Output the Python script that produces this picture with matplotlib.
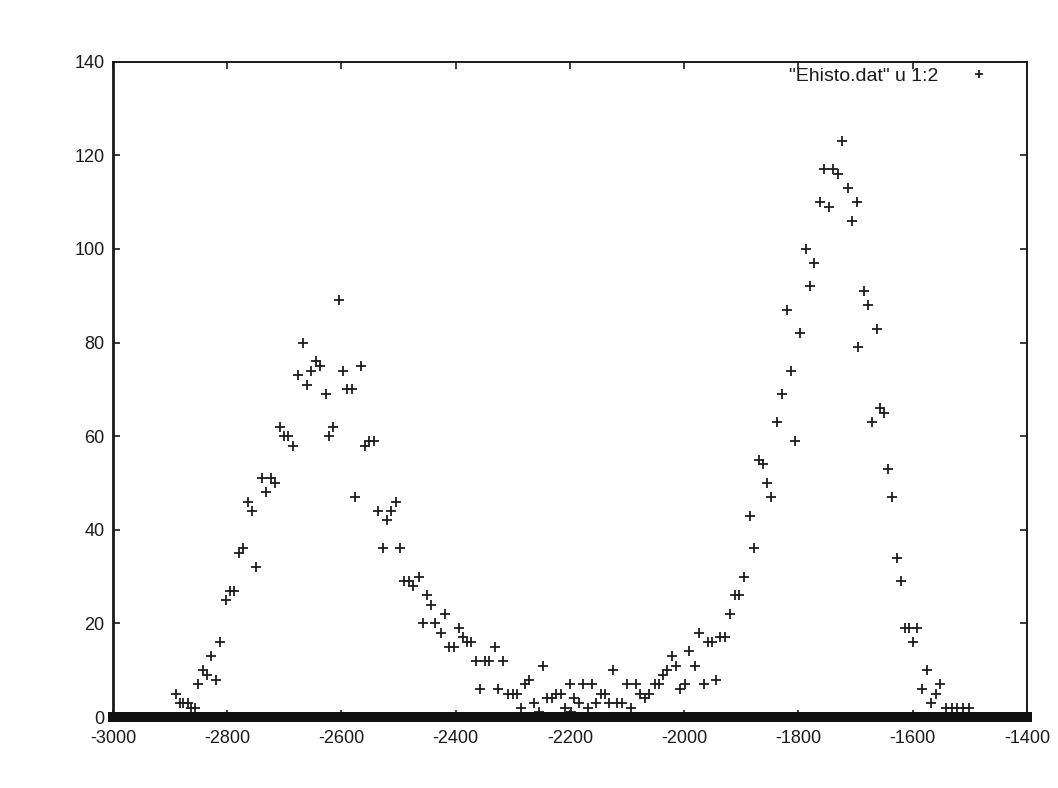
import matplotlib
matplotlib.use("Agg")
import matplotlib.pyplot as plt

plt.rcParams['font.family'] = ['Liberation Sans', 'DejaVu Sans']
plt.rcParams['axes.unicode_minus'] = False

# Histogram data ("Ehisto.dat" u 1:2)
energy = [
    -2890, -2882, -2877, -2868, -2863, -2857, -2851, -2842, -2835, -2828,
    -2820, -2812, -2803, -2796, -2788, -2780, -2773, -2763, -2756, -2749,
    -2740, -2733, -2724, -2717, -2707, -2700, -2693, -2685, -2676, -2668,
    -2661, -2654, -2644, -2637, -2628, -2622, -2615, -2604, -2597, -2590,
    -2581, -2576, -2565, -2559, -2552, -2543, -2536, -2528, -2521, -2513,
    -2505, -2498, -2490, -2481, -2474, -2465, -2458, -2450, -2443, -2436,
    -2426, -2418, -2411, -2403, -2395, -2388, -2380, -2373, -2364, -2357,
    -2348, -2341, -2332, -2326, -2317, -2309, -2300, -2292, -2286, -2278,
    -2271, -2263, -2254, -2248, -2240, -2231, -2224, -2216, -2208, -2200,
    -2198, -2193, -2185, -2178, -2168, -2162, -2155, -2146, -2138, -2131,
    -2124, -2117, -2109, -2100, -2093, -2084, -2078, -2069, -2061, -2051,
    -2044, -2038, -2031, -2022, -2014, -2007, -1999, -1991, -1982, -1974,
    -1966, -1959, -1951, -1944, -1937, -1929, -1920, -1912, -1904, -1896,
    -1885, -1878, -1870, -1862, -1855, -1848, -1838, -1829, -1820, -1813,
    -1806, -1797, -1786, -1780, -1773, -1763, -1755, -1746, -1739, -1730,
    -1723, -1714, -1707, -1698, -1695, -1686, -1678, -1672, -1663, -1657,
    -1651, -1644, -1636, -1628, -1621, -1614, -1606, -1600, -1592, -1583,
    -1575, -1568, -1560, -1552, -1542, -1532, -1522, -1512, -1502,
]
counts = [
    5, 3, 3, 3, 2, 2, 7, 10, 9, 13,
    8, 16, 25, 27, 27, 35, 36, 46, 44, 32,
    51, 48, 51, 50, 62, 60, 60, 58, 73, 80,
    71, 74, 76, 75, 69, 60, 62, 89, 74, 70,
    70, 47, 75, 58, 59, 59, 44, 36, 42, 44,
    46, 36, 29, 29, 28, 30, 20, 26, 24, 20,
    18, 22, 15, 15, 19, 17, 16, 16, 12, 6,
    12, 12, 15, 6, 12, 5, 5, 5, 2, 7,
    8, 3, 1, 11, 4, 4, 5, 5, 2, 7,
    1, 4, 3, 7, 2, 7, 3, 5, 5, 3,
    10, 3, 3, 7, 2, 7, 5, 4, 5, 7,
    7, 9, 10, 13, 11, 6, 7, 14, 11, 18,
    7, 16, 16, 8, 17, 17, 22, 26, 26, 30,
    43, 36, 55, 54, 50, 47, 63, 69, 87, 74,
    59, 82, 100, 92, 97, 110, 117, 109, 117, 116,
    123, 113, 106, 110, 79, 91, 88, 63, 83, 66,
    65, 53, 47, 34, 29, 19, 19, 16, 19, 6,
    10, 3, 5, 7, 2, 2, 2, 2, 2,
]

x_ticks = [-3000, -2800, -2600, -2400, -2200, -2000, -1800, -1600, -1400]
y_ticks = [0, 20, 40, 60, 80, 100, 120, 140]
series_label = '"Ehisto.dat" u 1:2'

fig = plt.figure(figsize=(10.58, 7.88), dpi=100)
fig.patch.set_facecolor('white')
ax = fig.add_axes([0.1068, 0.0901, 0.8639, 0.8316])

ax.plot(energy, counts, linestyle='none', marker='+', markersize=6.5,
        markeredgewidth=1.3, color='#1e1e1e', label=series_label, zorder=3)

# thick baseline band of zero-count bins along the x axis
ax.axhline(0, color='#111111', linewidth=7.2, clip_on=False, zorder=4)

ax.set_xlim(x_ticks[0], x_ticks[-1])
ax.set_ylim(y_ticks[0], y_ticks[-1])
ax.set_xticks(x_ticks)
ax.set_yticks(y_ticks)
ax.tick_params(direction='in', length=5, width=1.2, top=True, right=True,
               labelsize=13, colors='#1a1a1a')
ax.tick_params(axis='x', pad=9)
ax.tick_params(axis='y', pad=6)
for side, sp in ax.spines.items():
    sp.set_color('#1a1a1a')
    sp.set_linewidth(1.4)
ax.spines['left'].set_linewidth(2.0)

leg = ax.legend(loc='upper right', bbox_to_anchor=(0.961, 0.992),
                markerfirst=False, frameon=False, fontsize=14,
                borderpad=0, borderaxespad=0, handlelength=1.3,
                handletextpad=1.45, markerscale=0.8)
for t in leg.get_texts():
    t.set_color('#1a1a1a')

fig.savefig('out.png', dpi=100)
